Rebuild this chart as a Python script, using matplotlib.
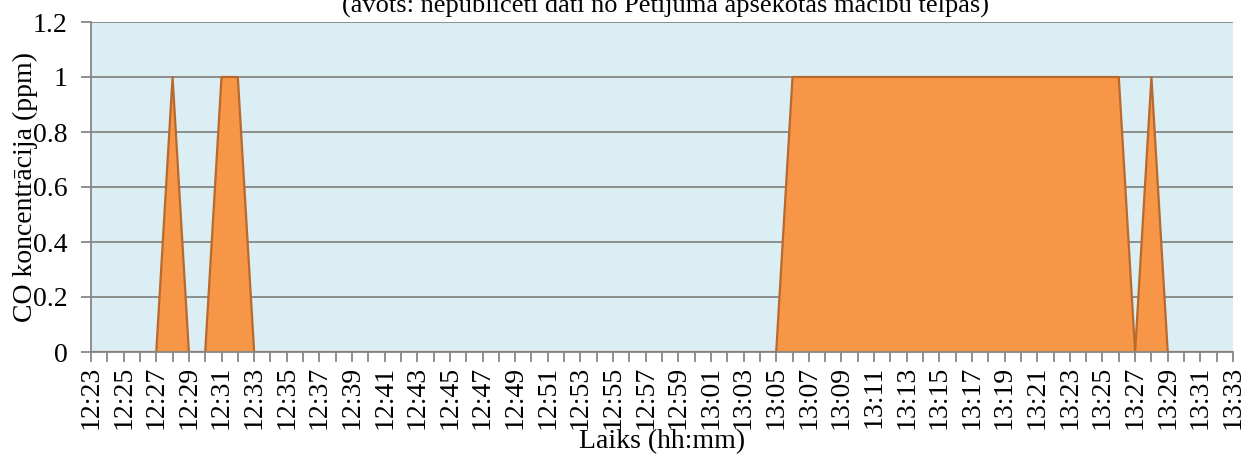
import matplotlib.pyplot as plt

# minute-by-minute readings, 12:23 .. 13:33
start_h, start_m, n_minutes = 12, 23, 71
times = [f"{(start_h * 60 + start_m + i) // 60}:{(start_h * 60 + start_m + i) % 60:02d}"
         for i in range(n_minutes)]

co_ppm = [0, 0, 0, 0, 0, 1, 0, 0, 1, 1,        # 12:23 - 12:32
          0, 0, 0, 0, 0, 0, 0, 0, 0, 0,        # 12:33 - 12:42
          0, 0, 0, 0, 0, 0, 0, 0, 0, 0,        # 12:43 - 12:52
          0, 0, 0, 0, 0, 0, 0, 0, 0, 0,        # 12:53 - 13:02
          0, 0, 0, 1, 1, 1, 1, 1, 1, 1,        # 13:03 - 13:12
          1, 1, 1, 1, 1, 1, 1, 1, 1, 1,        # 13:13 - 13:22
          1, 1, 1, 1, 0, 1, 0, 0, 0, 0,        # 13:23 - 13:32
          0]                                   # 13:33

title = "(avots: nepublicēti dati no Pētījuma apsekotās mācību telpas)"
y_label = "CO koncentrācija (ppm)"
x_label = "Laiks (hh:mm)"

plt.rcParams['font.family'] = ['Liberation Serif', 'DejaVu Serif']
plt.rcParams['font.size'] = 20

fig = plt.figure(figsize=(12.49, 4.57), dpi=100)
W, H = 1249, 457
ax = fig.add_axes([91 / W, 1 - 352 / H, (1233 - 91) / W, (352 - 22) / H])

x = list(range(len(times)))
ax.fill_between(x, co_ppm, 0, facecolor='#F79646', edgecolor='none', zorder=3)
ax.plot(x, co_ppm, color='#B8692E', linewidth=1.6, zorder=4)

ax.set_facecolor('#DBEEF4')
ax.set_xlim(0, len(times) - 1)
ax.set_ylim(0, 1.2)
ax.set_yticks([0, 0.2, 0.4, 0.6, 0.8, 1, 1.2])
ax.set_yticklabels(['0', '0.2', '0.4', '0.6', '0.8', '1', '1.2'])
ax.set_xticks(x)
ax.set_xticklabels([t if i % 2 == 0 else '' for i, t in enumerate(times)], rotation=90)

ax.grid(axis='y', color='#868686', linewidth=1.3, zorder=1)
ax.set_axisbelow(True)
for side in ['top', 'right']:
    ax.spines[side].set_visible(False)
for side in ['left', 'bottom']:
    ax.spines[side].set_color('#868686')
    ax.spines[side].set_linewidth(1.3)
    ax.spines[side].set_zorder(5)
ax.tick_params(axis='both', color='#868686', width=1.3, length=7, direction='out')
ax.tick_params(axis='y', pad=10)
ax.tick_params(axis='x', pad=3)

ax.set_ylabel(y_label, labelpad=-4)
ax.set_xlabel(x_label, labelpad=0)

# title sits mostly above the figure edge, as in the source
fig.text(665 / W, 1 - 13 / H, title, ha='center', va='baseline', fontsize=19)

fig.savefig("out.png", dpi=100)
